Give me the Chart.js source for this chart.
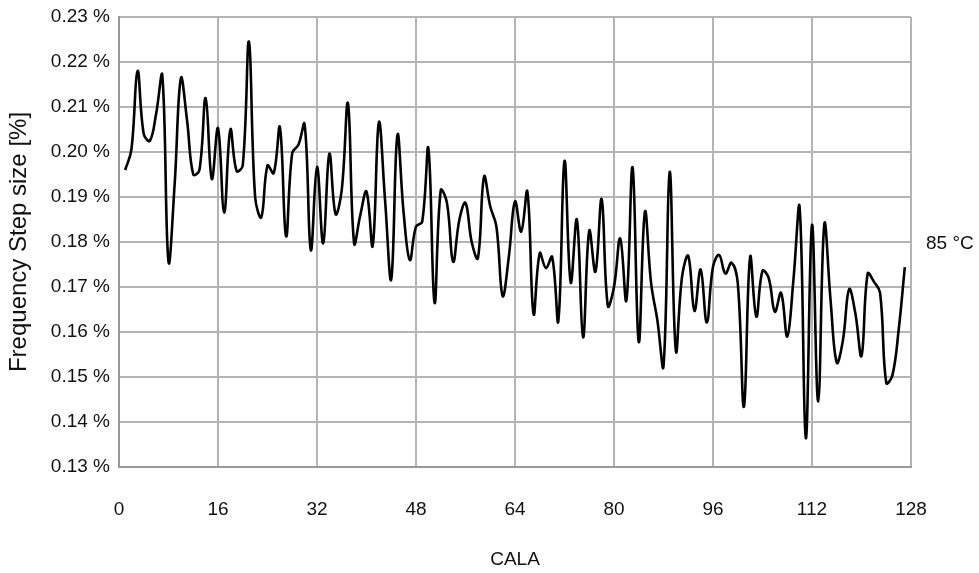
<!DOCTYPE html>
<html>
<head>
<meta charset="utf-8">
<script src="https://cdn.jsdelivr.net/npm/chart.js@4"></script>
<style>
  html, body { margin: 0; padding: 0; background: #fff; }
  #wrap { width: 979px; height: 573px; }
</style>
</head>
<body>
<div id="wrap"><canvas id="chartStep"></canvas></div>
<script>
// CALA codes (x) and measured frequency step size in % (y)
const cala = [
  1, 2, 3, 4, 5, 6, 7, 8, 9, 10, 11, 12, 13, 14, 15, 16,
  17, 18, 19, 20, 21, 22, 23, 24, 25, 26, 27, 28, 29, 30, 31, 32,
  33, 34, 35, 36, 37, 38, 39, 40, 41, 42, 43, 44, 45, 46, 47, 48,
  49, 50, 51, 52, 53, 54, 55, 56, 57, 58, 59, 60, 61, 62, 63, 64,
  65, 66, 67, 68, 69, 70, 71, 72, 73, 74, 75, 76, 77, 78, 79, 80,
  81, 82, 83, 84, 85, 86, 87, 88, 89, 90, 91, 92, 93, 94, 95, 96,
  97, 98, 99, 100, 101, 102, 103, 104, 105, 106, 107, 108, 109, 110, 111, 112,
  113, 114, 115, 116, 117, 118, 119, 120, 121, 122, 123, 124, 125, 126, 127
];
const stepSize85 = [
  0.1960, 0.2005, 0.2180, 0.2040, 0.2025, 0.2085, 0.2170, 0.1756, 0.1930, 0.2164, 0.2070, 0.1950, 0.1960, 0.2120, 0.1940, 0.2053,
  0.1865, 0.2050, 0.1958, 0.1970, 0.2245, 0.1900, 0.1855, 0.1970, 0.1953, 0.2055, 0.1813, 0.1998, 0.2016, 0.2062, 0.1782, 0.1967,
  0.1797, 0.1996, 0.1862, 0.1916, 0.2108, 0.1797, 0.1860, 0.1912, 0.1791, 0.2066, 0.1893, 0.1717, 0.2038, 0.1865, 0.1760, 0.1834,
  0.1845, 0.2008, 0.1665, 0.1915, 0.1887, 0.1756, 0.1849, 0.1887, 0.1800, 0.1764, 0.1945, 0.1879, 0.1834, 0.1680, 0.1767, 0.1890,
  0.1823, 0.1912, 0.1640, 0.1775, 0.1742, 0.1767, 0.1624, 0.1980, 0.1710, 0.1850, 0.1588, 0.1825, 0.1734, 0.1895, 0.1658, 0.1700,
  0.1808, 0.1670, 0.1966, 0.1578, 0.1867, 0.1708, 0.1627, 0.1524, 0.1956, 0.1558, 0.1723, 0.1769, 0.1647, 0.1739, 0.1621, 0.1745,
  0.1771, 0.1730, 0.1754, 0.1709, 0.1434, 0.1767, 0.1634, 0.1736, 0.1720, 0.1645, 0.1687, 0.1590, 0.1716, 0.1877, 0.1364, 0.1838,
  0.1445, 0.1840, 0.1671, 0.1532, 0.1582, 0.1695, 0.1642, 0.1547, 0.1730, 0.1712, 0.1687, 0.1487, 0.1504, 0.1604, 0.1744
];
const seriesName = '85 °C';
const xTicks = [0, 16, 32, 48, 64, 80, 96, 112, 128];
const yTicks = [0.13, 0.14, 0.15, 0.16, 0.17, 0.18, 0.19, 0.20, 0.21, 0.22, 0.23];

document.addEventListener("DOMContentLoaded", function(){
    const fontFamily = '"Liberation Sans", Arial, sans-serif';
    const fontSize = 19;

    // writes the series name next to the end of the line
    const endLabel = {
        id: 'endLabel',
        afterDatasetsDraw(chart) {
            const {ctx, chartArea, scales} = chart;
            const lastY = scales.y.getPixelForValue(stepSize85[stepSize85.length - 1]);
            ctx.save();
            ctx.font = fontSize + 'px ' + fontFamily;
            ctx.fillStyle = '#111';
            ctx.textBaseline = 'middle';
            ctx.fillText(seriesName, chartArea.right + 15, lastY - 23);
            ctx.restore();
        }
    };

    new Chart(document.getElementById("chartStep"), {
        type: 'line',
        data: {
            datasets: [{
                label: seriesName,
                data: cala.map((c, i) => ({x: c, y: stepSize85[i]})),
                borderColor: '#000',
                borderWidth: 2.6,
                pointRadius: 0,
                tension: 0.4,
                fill: false
            }]
        },
        options: {
            responsive: true,
            maintainAspectRatio: false,
            animation: false,
            layout: {
                padding: { top: 17, right: 68, bottom: 0, left: 0 }
            },
            plugins: {
                legend: { display: false },
                tooltip: { enabled: false }
            },
            scales: {
                x: {
                    type: 'linear',
                    min: xTicks[0],
                    max: xTicks[xTicks.length - 1],
                    afterBuildTicks: s => { s.ticks = xTicks.map(v => ({value: v})); },
                    afterFit: s => { s.height = 106; },
                    grid: { color: '#b4b4b4', lineWidth: 2, drawTicks: false },
                    border: { color: '#999', width: 2 },
                    ticks: { padding: 31, color: '#111', font: { size: fontSize, family: fontFamily } },
                    title: {
                        display: true,
                        text: 'CALA',
                        color: '#111',
                        padding: { top: 4, bottom: 2 },
                        font: { size: fontSize, family: fontFamily }
                    }
                },
                y: {
                    min: yTicks[0],
                    max: yTicks[yTicks.length - 1],
                    afterBuildTicks: s => { s.ticks = yTicks.map(v => ({value: v})); },
                    afterFit: s => { s.width = 119; s.paddingTop = 0; s.paddingBottom = 0; },
                    grid: { color: '#b4b4b4', lineWidth: 2, drawTicks: false },
                    border: { color: '#999', width: 2 },
                    ticks: {
                        padding: 9,
                        color: '#111',
                        font: { size: fontSize, family: fontFamily },
                        callback: v => v.toFixed(2) + ' %'
                    },
                    title: {
                        display: true,
                        text: 'Frequency Step size [%]',
                        color: '#111',
                        padding: { top: 5, bottom: 0 },
                        font: { size: 24, family: fontFamily }
                    }
                }
            }
        },
        plugins: [endLabel]
    });
});
</script>
</body>
</html>
